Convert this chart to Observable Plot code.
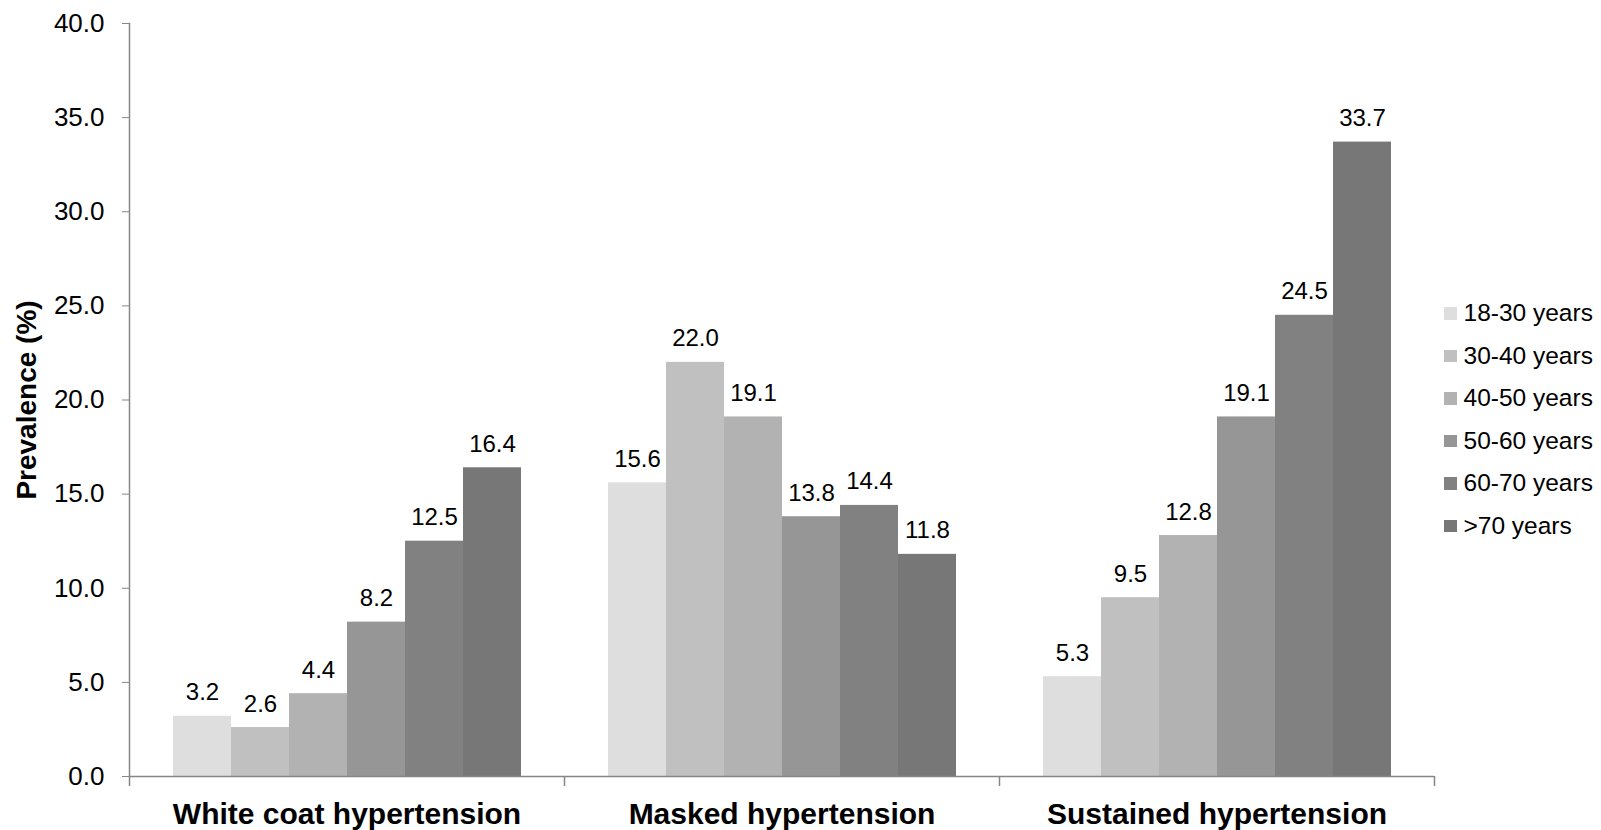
<!DOCTYPE html>
<html>
<head>
<meta charset="utf-8">
<script src="https://cdn.jsdelivr.net/npm/d3@7"></script>
<script src="https://cdn.jsdelivr.net/npm/@observablehq/plot@0.6"></script>
<style>
  html, body { margin: 0; padding: 0; background: #fff; }
  #wrap { position: relative; width: 1601px; height: 830px; font-family: "Liberation Sans", Arial, sans-serif; }
  #legend { position: absolute; left: 1444px; top: 292px; }
  .row { display: flex; align-items: center; height: 42.5px; font-size: 24.5px; color: #000; }
  .sw { width: 12.5px; height: 12.5px; margin-right: 7px; }
</style>
</head>
<body>
<div id="wrap"><div id="chart"></div><div id="legend"></div></div>
<script>
const groups = ["White coat hypertension", "Masked hypertension", "Sustained hypertension"];
const ages = ["18-30 years", "30-40 years", "40-50 years", "50-60 years", "60-70 years", ">70 years"];
const whiteCoat = [3.2, 2.6, 4.4, 8.2, 12.5, 16.4];
const masked = [15.6, 22.0, 19.1, 13.8, 14.4, 11.8];
const sustained = [5.3, 9.5, 12.8, 19.1, 24.5, 33.7];
const colors = ["#dedede", "#c0c0c0", "#b2b2b2", "#969696", "#818181", "#777777"];
const yTicks = [0, 5, 10, 15, 20, 25, 30, 35, 40];
const yLabel = "Prevalence (%)";

const series = [whiteCoat, masked, sustained];
const data = groups.flatMap((g, gi) => series[gi].map((v, ai) => ({group: g, age: ages[ai], value: v})));

const W = 1601, H = 830, ML = 129, MR = 167, MT = 23, MB = 54;
const bw = (W - ML - MR) / groups.length;
const axisColor = "#868686";

const chart = Plot.plot({
  width: W, height: H,
  marginLeft: ML, marginRight: MR, marginTop: MT, marginBottom: MB,
  style: {fontFamily: "'Liberation Sans', Arial, sans-serif", background: "white", color: "black"},
  fx: {domain: groups, paddingInner: 0, paddingOuter: 0, axis: null},
  x: {domain: ages, paddingInner: 0, paddingOuter: 0.748, axis: null},
  y: {domain: [0, 40], axis: null},
  color: {domain: ages, range: colors},
  marks: [
    Plot.barY(data, {fx: "group", x: "age", y: "value", fill: "age"}),
    Plot.text(data, {fx: "group", x: "age", y: "value", text: d => d.value.toFixed(1), dy: -16, lineAnchor: "bottom", fontSize: 24, fill: "black"}),
    Plot.ruleY([0], {stroke: axisColor, strokeWidth: 1.5}),
    Plot.frame({anchor: "left", facetAnchor: "left", stroke: axisColor, strokeWidth: 1.5}),
    Plot.axisY({ticks: yTicks, tickFormat: d => d.toFixed(1), tickSize: 7, tickPadding: 18, fontSize: 26, stroke: axisColor, fill: "black", label: null}),
    Plot.axisY({ticks: [], label: yLabel, labelArrow: "none", labelAnchor: "center", labelOffset: 113, fontSize: 28, fontWeight: "bold", fill: "black", dy: -9}),
    Plot.axisFx({anchor: "bottom", tickSize: 0, tickPadding: 26, fontSize: 30, fontWeight: "bold", fill: "black", label: null}),
    Plot.axisFx({anchor: "bottom", tickSize: 10, tickFormat: () => "", stroke: axisColor, strokeWidth: 1.5, dx: -bw / 2, label: null}),
    Plot.axisFx({anchor: "bottom", ticks: [groups[groups.length - 1]], tickSize: 10, tickFormat: () => "", stroke: axisColor, strokeWidth: 1.5, dx: bw / 2, label: null})
  ]
});
document.getElementById("chart").appendChild(chart);

const legend = document.getElementById("legend");
ages.forEach((a, i) => {
  const row = document.createElement("div");
  row.className = "row";
  const sw = document.createElement("div");
  sw.className = "sw";
  sw.style.background = colors[i];
  const t = document.createElement("span");
  t.textContent = a;
  row.appendChild(sw);
  row.appendChild(t);
  legend.appendChild(row);
});
</script>
</body>
</html>
